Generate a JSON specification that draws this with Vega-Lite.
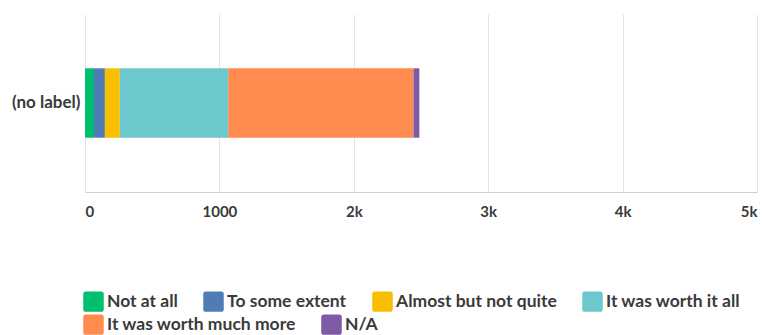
{
  "$schema": "https://vega.github.io/schema/vega-lite/v6.json",
  "autosize": {"type": "none"},
  "width": 672,
  "height": 178,
  "padding": {"left": 85, "top": 14, "right": 6, "bottom": 143},
  "background": "white",
  "data": {"values": [
    {"label": "(no label)", "answer": "Not at all", "order": 1, "count": 67},
    {"label": "(no label)", "answer": "To some extent", "order": 2, "count": 81},
    {"label": "(no label)", "answer": "Almost but not quite", "order": 3, "count": 111},
    {"label": "(no label)", "answer": "It was worth it all", "order": 4, "count": 807},
    {"label": "(no label)", "answer": "It was worth much more", "order": 5, "count": 1378},
    {"label": "(no label)", "answer": "N/A", "order": 6, "count": 44}
  ]},
  "config": {
    "view": {"stroke": null},
    "font": "Lato",
    "axis": {"labelFont": "Lato", "labelFontWeight": "bold", "labelColor": "#3a3a3a", "labelFontSize": 16},
    "legend": {"padding": 0}
  },
  "transform": [
    {"stack": "count", "groupby": ["label"], "sort": [{"field": "order", "order": "ascending"}], "as": ["x0", "x1"]}
  ],
  "encoding": {
    "y": {
      "field": "label", "type": "nominal", "title": null,
      "scale": {"paddingInner": 0.61, "paddingOuter": 0.305},
      "axis": {"domain": false, "ticks": false, "labelPadding": 5, "grid": false, "labelFontSize": 17}
    },
    "x": {
      "field": "x0", "type": "quantitative", "title": null,
      "scale": {"domain": [0, 5000], "nice": false},
      "axis": {
        "values": [0, 1000, 2000, 3000, 4000, 5000],
        "labelExpr": "datum.value == 0 ? '0' : datum.value == 1000 ? '1000' : (datum.value / 1000) + 'k'",
        "grid": true, "gridColor": "#e4e4e4", "domainColor": "#d0d0d0", "ticks": false,
        "labelPadding": 12, "labelFontSize": 15
      }
    },
    "x2": {"field": "x1"}
  },
  "layer": [
    {
      "transform": [{"filter": "datum.order <= 4"}],
      "mark": {"type": "bar"},
      "encoding": {
        "color": {
          "field": "answer", "type": "nominal",
          "sort": ["Not at all", "To some extent", "Almost but not quite", "It was worth it all"],
          "scale": {
            "domain": ["Not at all", "To some extent", "Almost but not quite", "It was worth it all"],
            "range": ["#00bf6f", "#507cb6", "#f9be00", "#6bc8cd"]
          },
          "legend": {
            "title": null, "orient": "none", "legendX": -2, "legendY": 277,
            "direction": "horizontal", "columns": 4,
            "symbolType": "M-0.75,-1H0.75Q1,-1 1,-0.75V0.75Q1,1 0.75,1H-0.75Q-1,1 -1,0.75V-0.75Q-1,-1 -0.75,-1Z",
            "symbolSize": 420, "symbolStrokeWidth": 0,
            "labelFont": "Lato", "labelFontWeight": "bold", "labelFontSize": 17.5, "labelColor": "#3a3a3a",
            "labelLimit": 300, "columnPadding": 25, "labelOffset": 3
          }
        }
      }
    },
    {
      "transform": [{"filter": "datum.order >= 5"}],
      "mark": {"type": "bar"},
      "encoding": {
        "color": {
          "field": "answer", "type": "nominal",
          "sort": ["It was worth much more", "N/A"],
          "scale": {
            "domain": ["It was worth much more", "N/A"],
            "range": ["#ff8b4f", "#7d5ba6"]
          },
          "legend": {
            "title": null, "orient": "none", "legendX": -2, "legendY": 300,
            "direction": "horizontal", "columns": 2,
            "symbolType": "M-0.75,-1H0.75Q1,-1 1,-0.75V0.75Q1,1 0.75,1H-0.75Q-1,1 -1,0.75V-0.75Q-1,-1 -0.75,-1Z",
            "symbolSize": 420, "symbolStrokeWidth": 0,
            "labelFont": "Lato", "labelFontWeight": "bold", "labelFontSize": 17.5, "labelColor": "#3a3a3a",
            "labelLimit": 300, "columnPadding": 25, "labelOffset": 3
          }
        }
      }
    }
  ],
  "resolve": {"scale": {"color": "independent"}, "legend": {"color": "independent"}}
}
